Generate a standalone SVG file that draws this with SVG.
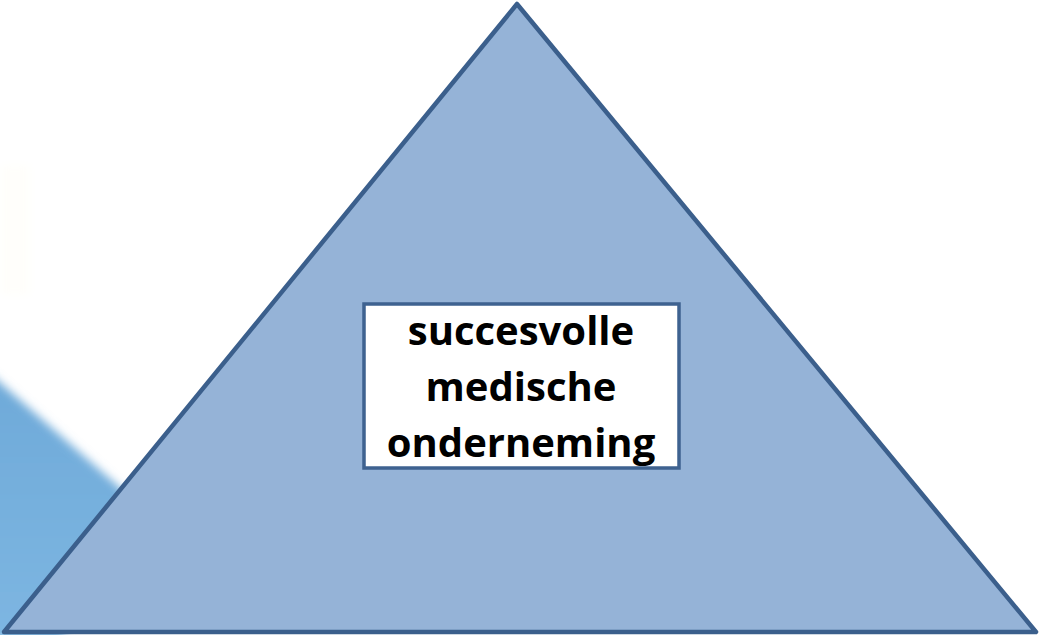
<svg xmlns="http://www.w3.org/2000/svg" width="1039" height="635" viewBox="0 0 1039 635">
  <defs>
    <filter id="blur" x="-20%" y="-20%" width="140%" height="140%">
      <feGaussianBlur stdDeviation="5"/>
    </filter>
    <linearGradient id="wedge" x1="0" y1="0" x2="0" y2="1">
      <stop offset="0" stop-color="#6ea9d8"/>
      <stop offset="1" stop-color="#7db6e2"/>
    </linearGradient>
  </defs>
  <style>
    .tri { fill: #95b3d7; stroke: #3b5f8c; stroke-width: 4.5; stroke-linejoin: round; }
    .box { fill: #ffffff; stroke: #3e6290; stroke-width: 3.5; }
    .lbl { font-family: "Open Sans", "Liberation Sans", sans-serif; font-weight: bold; font-size: 40px; fill: #000000; text-anchor: middle; }
  </style>
  <rect x="0" y="0" width="1039" height="635" fill="#ffffff"/>
  <g id="background">
    <polygon points="-20,365 140,505 60,640 -20,640" fill="url(#wedge)" filter="url(#blur)"/>
    <rect x="0" y="165" width="30" height="130" fill="#fffefb" filter="url(#blur)"/>
  </g>
  <g id="pyramid">
    <polygon class="tri" points="517,4 1036,632 4,632"/>
  </g>
  <g id="label-box">
    <rect class="box" x="364" y="304" width="315" height="164"/>
    <text class="lbl" x="521" y="345">succesvolle</text>
    <text class="lbl" x="521" y="401">medische</text>
    <text class="lbl" x="521" y="457">onderneming</text>
  </g>
  <g id="connectors"/>
</svg>
